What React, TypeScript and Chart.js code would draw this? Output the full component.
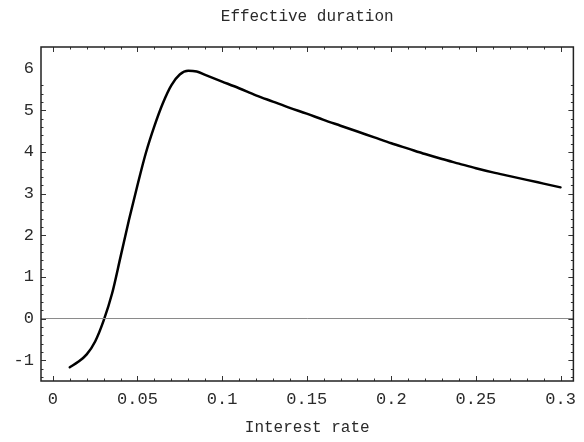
import React, { useEffect, useRef } from "react";
import { Chart, registerables } from "chart.js";

Chart.register(...registerables);

const rates = [0.01, 0.015, 0.02, 0.025, 0.03, 0.035, 0.04, 0.045, 0.05, 0.055, 0.06, 0.065, 0.07, 0.075, 0.08, 0.085, 0.09, 0.1, 0.11, 0.12, 0.13, 0.14, 0.15, 0.16, 0.17, 0.18, 0.19, 0.2, 0.21, 0.22, 0.23, 0.24, 0.25, 0.26, 0.27, 0.28, 0.29, 0.3];
const durations = [-1.17, -1.04, -0.86, -0.55, -0.05, 0.6, 1.48, 2.37, 3.2, 3.98, 4.62, 5.17, 5.6, 5.86, 5.95, 5.93, 5.85, 5.69, 5.53, 5.36, 5.21, 5.06, 4.92, 4.77, 4.63, 4.49, 4.35, 4.21, 4.08, 3.95, 3.83, 3.72, 3.61, 3.51, 3.42, 3.33, 3.24, 3.15];

const xTicks = [0, 0.05, 0.1, 0.15, 0.2, 0.25, 0.3];
const xTickLabels = ["0", "0.05", "0.1", "0.15", "0.2", "0.25", "0.3"];
const yTicks = [-1, 0, 1, 2, 3, 4, 5, 6];
const xMinorTicks = Array.from({ length: 31 }, (_, i) => i / 100);
const yMinorTicks = Array.from({ length: 36 }, (_, i) => Math.round((-1.4 + i * 0.2) * 10) / 10);

const TITLE = "Effective duration";
const X_TITLE = "Interest rate";
const FONT = "'Liberation Mono', 'DejaVu Sans Mono', monospace";
const TEXT = "#2a2a2a";

const framePlugin = {
  id: "frame",
  afterDraw(chart: any) {
    const { ctx, chartArea: a, scales } = chart;
    const xs = scales.x;
    const ys = scales.y;
    ctx.save();
    // zero line
    const y0 = ys.getPixelForValue(0);
    ctx.strokeStyle = "#8a8a8a";
    ctx.lineWidth = 1;
    ctx.beginPath();
    ctx.moveTo(a.left, y0);
    ctx.lineTo(a.right, y0);
    ctx.stroke();
    // ticks
    ctx.strokeStyle = "#333";
    ctx.lineWidth = 1;
    const major = 5;
    const minor = 2.5;
    ctx.beginPath();
    xMinorTicks.forEach((v) => {
      const isMajor = xTicks.some((t) => Math.abs(t - v) < 1e-9);
      const len = isMajor ? major : minor;
      const px = Math.round(xs.getPixelForValue(v)) + 0.5;
      ctx.moveTo(px, a.bottom);
      ctx.lineTo(px, a.bottom - len);
      ctx.moveTo(px, a.top);
      ctx.lineTo(px, a.top + len);
    });
    yMinorTicks.forEach((v) => {
      const isMajor = yTicks.some((t) => Math.abs(t - v) < 1e-9);
      const len = isMajor ? major : minor;
      const py = Math.round(ys.getPixelForValue(v)) + 0.5;
      ctx.moveTo(a.left, py);
      ctx.lineTo(a.left + len, py);
      ctx.moveTo(a.right, py);
      ctx.lineTo(a.right - len, py);
    });
    ctx.stroke();
    // frame
    ctx.lineWidth = 1.5;
    ctx.strokeStyle = "#222";
    ctx.strokeRect(a.left, a.top, a.right - a.left, a.bottom - a.top);
    // title
    ctx.fillStyle = TEXT;
    ctx.font = `16px ${FONT}`;
    ctx.textAlign = "center";
    ctx.textBaseline = "middle";
    ctx.fillText(TITLE, (a.left + a.right) / 2, 17);
    ctx.restore();
  },
};

export default function App() {
  const ref = useRef<HTMLCanvasElement>(null);
  useEffect(() => {
    if (!ref.current) return;
    const chart = new Chart(ref.current, {
      type: "line",
      data: {
        datasets: [
          {
            data: rates.map((r, i) => ({ x: r, y: durations[i] })),
            borderColor: "#000",
            borderWidth: 2.5,
            borderJoinStyle: "round",
            borderCapStyle: "round",
            pointRadius: 0,
            fill: false,
            cubicInterpolationMode: "monotone",
          },
        ],
      },
      options: {
        animation: false,
        responsive: false,
        maintainAspectRatio: false,
        layout: { padding: { top: 47, right: 7, left: 0, bottom: 0 } },
        plugins: { legend: { display: false }, tooltip: { enabled: false }, title: { display: false } },
        scales: {
          x: {
            type: "linear",
            min: -0.007,
            max: 0.3076,
            grid: { display: false, drawTicks: false },
            border: { display: false },
            afterBuildTicks: (s: any) => {
              s.ticks = xTicks.map((v) => ({ value: v }));
            },
            afterFit: (s: any) => {
              s.height = 61;
            },
            ticks: {
              padding: 8,
              color: TEXT,
              font: { family: FONT, size: 17 },
              maxRotation: 0,
              autoSkip: false,
              callback: (v: any) => {
                const i = xTicks.findIndex((t) => Math.abs(t - Number(v)) < 1e-9);
                return i >= 0 ? xTickLabels[i] : "";
              },
            },
            title: {
              display: true,
              text: X_TITLE,
              color: TEXT,
              font: { family: FONT, size: 16 },
              padding: { top: 0, bottom: 5 },
            },
          },
          y: {
            type: "linear",
            min: -1.5,
            max: 6.52,
            grid: { display: false, drawTicks: false },
            border: { display: false },
            afterBuildTicks: (s: any) => {
              s.ticks = yTicks.map((v) => ({ value: v }));
            },
            afterFit: (s: any) => {
              s.width = 41;
            },
            ticks: {
              padding: 7,
              color: TEXT,
              font: { family: FONT, size: 17 },
              autoSkip: false,
              callback: (v: any) => String(v),
            },
          },
        },
      },
      plugins: [framePlugin],
    } as any);
    return () => chart.destroy();
  }, []);
  return (
    <div style={{ position: "fixed", left: 0, top: 0, width: 584, height: 442, background: "#fff" }}>
      <canvas ref={ref} width={584} height={442} style={{ width: 584, height: 442 }} />
    </div>
  );
}
